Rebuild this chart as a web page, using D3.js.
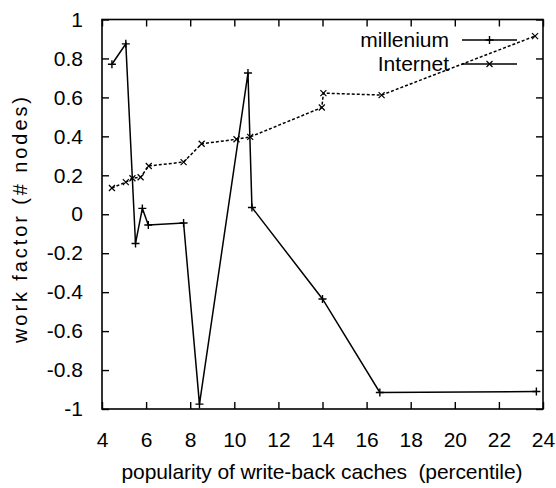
<!DOCTYPE html>
<html>
<head>
<meta charset="utf-8">
<script src="https://cdn.jsdelivr.net/npm/d3@7/dist/d3.min.js"></script>
<style>
  body { margin: 0; background: #fff; }
  text { font-family: "Liberation Sans", Arial, sans-serif; fill: #000; }
</style>
</head>
<body>
<svg id="chart" width="556" height="488"></svg>
<script>
/* global d3 */

// data
let milleniumX = [4.45, 5.08, 5.52, 5.83, 6.1, 7.7, 8.42, 10.62, 10.8, 14.0, 16.6, 23.7]
let milleniumY = [0.77, 0.875, -0.15, 0.03, -0.055, -0.045, -0.975, 0.725, 0.035, -0.435, -0.915, -0.91]
let internetX = [4.45, 5.08, 5.38, 5.75, 6.12, 7.7, 8.52, 10.1, 10.72, 13.97, 14.04, 16.68, 23.64]
let internetY = [0.135, 0.165, 0.185, 0.19, 0.248, 0.268, 0.362, 0.385, 0.397, 0.548, 0.622, 0.612, 0.915]
let xTicks = [4, 6, 8, 10, 12, 14, 16, 18, 20, 22, 24]
let yTicks = [-1, -0.8, -0.6, -0.4, -0.2, 0, 0.2, 0.4, 0.6, 0.8, 1]

let box = {left: 102, right: 543, top: 19.5, bottom: 409}
let fontSize = 21
let tickLen = 7

let svg = d3.select('#chart')

let x = d3.scaleLinear().domain([4, 24]).range([box.left, box.right])
let y = d3.scaleLinear().domain([-1, 1]).range([box.bottom, box.top])

function styleAxis (g) {
  g.select('.domain').remove()
  g.selectAll('line').attr('stroke', '#000').attr('stroke-width', 1.4)
  g.selectAll('text').style('font-size', fontSize + 'px').attr('fill', '#000')
}

// plain hyphen for negatives, like gnuplot
let numFmt = d => String(+(+d).toFixed(1))

// inward ticks on all four sides (gnuplot style)
svg.append('g')
  .attr('transform', 'translate(0,' + box.bottom + ')')
  .call(d3.axisBottom(x).tickValues(xTicks).tickSize(-tickLen).tickPadding(23).tickFormat(numFmt))
  .call(styleAxis)
svg.append('g')
  .attr('transform', 'translate(0,' + box.top + ')')
  .call(d3.axisTop(x).tickValues(xTicks).tickSize(-tickLen).tickFormat(''))
  .call(styleAxis)
svg.append('g')
  .attr('transform', 'translate(' + box.left + ',0)')
  .call(d3.axisLeft(y).tickValues(yTicks).tickSize(-tickLen).tickPadding(19).tickFormat(numFmt))
  .call(styleAxis)
svg.append('g')
  .attr('transform', 'translate(' + box.right + ',0)')
  .call(d3.axisRight(y).tickValues(yTicks).tickSize(-tickLen).tickFormat(''))
  .call(styleAxis)

svg.append('rect')
  .attr('x', box.left)
  .attr('y', box.top)
  .attr('width', box.right - box.left)
  .attr('height', box.bottom - box.top)
  .attr('fill', 'none')
  .attr('stroke', '#000')
  .attr('stroke-width', 1.6)

// axis titles
svg.append('text')
  .text('popularity of write-back caches  (percentile)')
  .attr('x', 322)
  .attr('y', 479)
  .attr('text-anchor', 'middle')
  .attr('textLength', 401)
  .attr('lengthAdjust', 'spacing')
  .style('white-space', 'pre')
  .style('font-size', fontSize + 'px')

svg.append('text')
  .text('work factor (# nodes)')
  .attr('transform', 'translate(27,' + 220 + ') rotate(-90)')
  .attr('text-anchor', 'middle')
  .attr('textLength', 246)
  .attr('lengthAdjust', 'spacing')
  .style('font-size', '20px')

let line = d3.line().x(d => x(d[0])).y(d => y(d[1]))

function plus (g, cx, cy) {
  g.append('path')
    .attr('d', 'M' + (cx - 4) + ',' + cy + 'h8M' + cx + ',' + (cy - 4) + 'v8')
    .attr('stroke', '#000')
    .attr('stroke-width', 1.4)
}
function cross (g, cx, cy) {
  g.append('path')
    .attr('d', 'M' + (cx - 3) + ',' + (cy - 3) + 'l6,6M' + (cx - 3) + ',' + (cy + 3) + 'l6,-6')
    .attr('stroke', '#000')
    .attr('stroke-width', 1.2)
}

let mData = milleniumX.map((v, i) => [v, milleniumY[i]])
let iData = internetX.map((v, i) => [v, internetY[i]])

let gM = svg.append('g')
gM.append('path')
  .attr('d', line(mData))
  .attr('fill', 'none')
  .attr('stroke', '#000')
  .attr('stroke-width', 1.5)
mData.forEach(d => plus(gM, x(d[0]), y(d[1])))

let gI = svg.append('g')
gI.append('path')
  .attr('d', line(iData))
  .attr('fill', 'none')
  .attr('stroke', '#000')
  .attr('stroke-width', 1.5)
  .attr('stroke-dasharray', '3,2')
iData.forEach(d => cross(gI, x(d[0]), y(d[1])))

// legend
let legend = [
  {name: 'millenium', y: 40, marker: plus},
  {name: 'Internet', y: 64, marker: cross}
]
legend.forEach(l => {
  let g = svg.append('g')
  g.append('text')
    .text(l.name)
    .attr('x', 449)
    .attr('y', l.y + 7)
    .attr('text-anchor', 'end')
    .style('font-size', fontSize + 'px')
  g.append('line')
    .attr('x1', 462)
    .attr('x2', 517)
    .attr('y1', l.y)
    .attr('y2', l.y)
    .attr('stroke', '#000')
    .attr('stroke-width', 1.5)
  l.marker(g, 489.5, l.y)
})
</script>
</body>
</html>
